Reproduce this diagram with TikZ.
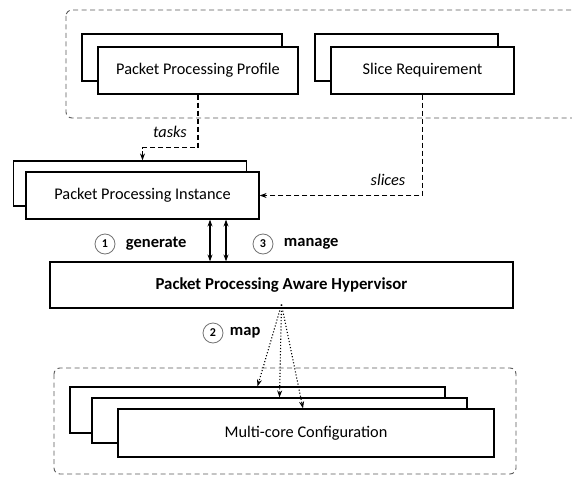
\documentclass[tikz,border=0pt]{standalone}
\usepackage{fontspec}
\setmainfont{Carlito}
\usepackage{xcolor}
\usepackage{tikz}
\usetikzlibrary{arrows.meta,positioning}

\begin{document}
\begin{tikzpicture}[x=1pt, y=-1pt, font=\fontsize{16.3}{19}\selectfont]
    \tikzstyle{block} = [rectangle, draw, line width=1.2pt, fill=white, minimum height=47pt, inner sep=0pt]
    \tikzstyle{group} = [draw=black!65, line width=0.9pt, dash pattern=on 5pt off 3.5pt, rounded corners=6pt]
    \tikzstyle{flow} = [draw, line width=1.2pt, dash pattern=on 5pt off 3pt, -{Stealth[length=7pt,width=5pt]}]
    \tikzstyle{dbl} = [draw, line width=1.1pt, {Stealth[length=7pt,width=5pt]}-{Stealth[length=7pt,width=5pt]}]
    \tikzstyle{mapping} = [draw, line width=1.1pt, dotted, -{Stealth[length=7pt,width=5pt]}]
    \tikzstyle{step num} = [circle, draw=black!55, line width=0.8pt, minimum size=20pt, inner sep=0pt, font=\fontsize{12}{14}\selectfont\bfseries]
    \tikzstyle{lbl} = [font=\fontsize{16.5}{19}\selectfont\bfseries]

    \clip (0,0) rectangle (572,476);

    % Profiles and requirements
    \draw[group] (66,10) rectangle (600,118);
    \node [block, minimum width=200pt] (pback) at (182,57.5) {};
    \node [block, minimum width=200pt] (pfront) at (198,70.5) {Packet Processing Profile};
    \node [block, minimum width=183pt] (sback) at (406.5,57.5) {};
    \node [block, minimum width=183pt] (sfront) at (422.5,70.5) {Slice Requirement};

    % Instance
    \node [block, minimum width=233pt, minimum height=45pt] (iback) at (130,183.5) {};
    \node [block, minimum width=233pt] (ifront) at (142.5,195.5) {Packet Processing Instance};

    % Hypervisor
    \node [block, minimum width=463pt, minimum height=46pt, font=\fontsize{16.8}{19}\selectfont\bfseries] (hyper) at (281.5,285) {Packet Processing Aware Hypervisor};

    % Multi-core
    \draw[group] (54,368) rectangle (516,474);
    \node [block, minimum width=375pt, minimum height=46pt] (mc1) at (257.5,410) {};
    \node [block, minimum width=375pt, minimum height=45pt] (mc2) at (279.5,420.5) {};
    \node [block, minimum width=376pt, minimum height=48pt] (mc3) at (306,433) {Multi-core Configuration};

    % Connections
    \draw[flow] (pfront.south) -- ++(0,53) -| (iback.north -| ifront.north);
    \node [font=\fontsize{16.3}{19}\selectfont\itshape] (tasks) at (170,132) {tasks};
    \draw[flow] (sfront.south) |- (ifront.east);
    \node [font=\fontsize{16.3}{19}\selectfont\itshape] (slices) at (388,180) {slices};

    \draw[dbl] ([xshift=67.5pt]ifront.south) -- ([xshift=67.5pt]ifront.south |- hyper.north);
    \draw[dbl] ([xshift=83.5pt]ifront.south) -- ([xshift=83.5pt]ifront.south |- hyper.north);
    \node [step num] (one) at (105,244) {1};
    \node [lbl, right=7pt of one] (gen) {generate};
    \node [step num] (three) at (263,244) {3};
    \node [lbl, right=7pt of three] (man) {manage};

    \coordinate (src) at ([yshift=4pt]hyper.south);
    \draw[mapping] (src) -- (mc1.north);
    \draw[mapping] (src) -- (mc2.north);
    \draw[mapping] (src) -- ([xshift=-3pt]mc3.north);
    \node [step num] (two) at (213,333) {2};
    \node [lbl, right=3pt of two] (map) {map};
\end{tikzpicture}
\end{document}
